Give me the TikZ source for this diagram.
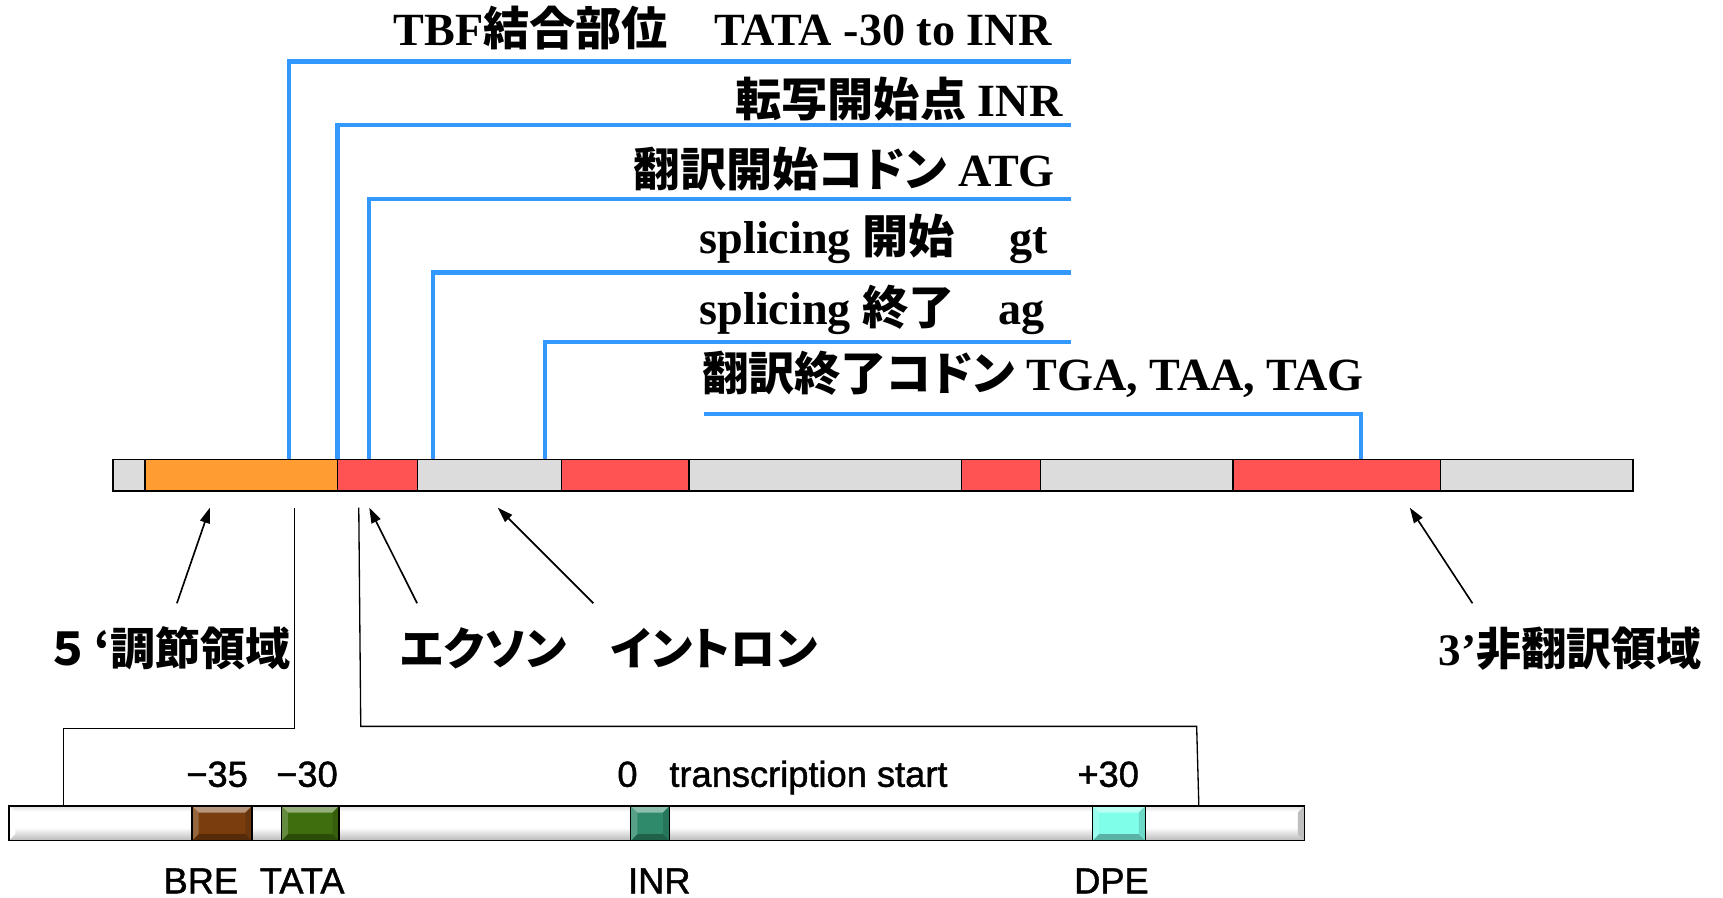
\documentclass[tikz,border=0pt]{standalone}
\usepackage{fontspec}
\setmainfont{Liberation Serif}
\newfontfamily\jp{Noto Sans CJK JP}[RawFeature=+palt]
\newfontfamily\lsans{Liberation Sans}[FakeBold=1.2]
\usetikzlibrary{arrows.meta}
\definecolor{segGray}{HTML}{DCDCDC}
\definecolor{segOrange}{HTML}{FF9D33}
\definecolor{segRed}{HTML}{FF5353}
\definecolor{lineBlue}{HTML}{3399FF}
\definecolor{breC}{HTML}{7A3E0E}
\definecolor{tataC}{HTML}{3F6E0E}
\definecolor{inrC}{HTML}{2E8A6A}
\definecolor{dpeC}{HTML}{7FFFEA}
\newcommand\bevbox[4]{%
 \node[anchor=north west, minimum width=#3pt, minimum height=31.5pt, inner sep=0pt, outer sep=0pt, fill=#4] (#1) at (#2,733.5) {};
 \fill[#4!55!white] (#1.north west) -- (#1.north east) -- ([shift={(-6pt,-6pt)}]#1.north east) -- ([shift={(6pt,-6pt)}]#1.north west) -- cycle;
 \fill[#4!70!black] (#1.south west) -- (#1.south east) -- ([shift={(-6pt,6pt)}]#1.south east) -- ([shift={(6pt,6pt)}]#1.south west) -- cycle;
 \fill[#4!80!white] (#1.north west) -- ([shift={(6pt,-6pt)}]#1.north west) -- ([shift={(6pt,6pt)}]#1.south west) -- (#1.south west) -- cycle;
 \fill[#4!85!black] (#1.north east) -- ([shift={(-6pt,-6pt)}]#1.north east) -- ([shift={(-6pt,6pt)}]#1.south east) -- (#1.south east) -- cycle;
 \draw[line width=1.3pt] (#1.north west) rectangle (#1.south east);
}
\begin{document}
\begin{tikzpicture}[x=1pt,y=-1pt,
 segbox/.style={draw=black, line width=1.5pt, minimum height=29pt, inner sep=0pt, outer sep=0pt, anchor=north west},
 blueline/.style={draw=lineBlue, line width=4pt},
 arr/.style={draw=black, line width=1.5pt, -{Triangle[length=14pt,width=9pt]}},
 thinline/.style={draw=black, line width=1.2pt},
 toptext/.style={font=\fontsize{42}{50}\selectfont\bfseries, inner sep=0pt},
 jlabel/.style={font=\fontsize{41}{48}\selectfont\bfseries\jp, inner sep=0pt, anchor=base},
 smalllabel/.style={font=\fontsize{33}{40}\selectfont\lsans, inner sep=0pt, anchor=base},
]
\useasboundingbox (0,0) rectangle (1568,817);

% blue connector lines
\coordinate (b1) at (263,418);    \coordinate (e1) at (975,56);
\coordinate (b2) at (307,418);    \coordinate (e2) at (975,114);
\coordinate (b3) at (336,418);    \coordinate (e3) at (975,181);
\coordinate (b4) at (394,418);    \coordinate (e4) at (975,248);
\coordinate (b5) at (496,418);    \coordinate (e5) at (975,311);
\coordinate (b6) at (1238.5,418); \coordinate (e6) at (641,377);
\draw[blueline] (b1) |- (e1);
\draw[blueline] (b2) |- (e2);
\draw[blueline] (b3) |- (e3);
\draw[blueline] (b4) |- (e4);
\draw[blueline] (b5) |- (e5);
\draw[blueline] (b6) |- (e6);

% main gene bar
\node[segbox, fill=segGray,   minimum width=29pt]  (s1)  at (103,418) {};
\node[segbox, fill=segOrange, minimum width=175pt] (s2)  at (132,418) {};
\node[segbox, fill=segRed,    minimum width=73pt]  (s3)  at (307,418) {};
\node[segbox, fill=segGray,   minimum width=131pt] (s4)  at (380,418) {};
\node[segbox, fill=segRed,    minimum width=116pt] (s5)  at (511,418) {};
\node[segbox, fill=segGray,   minimum width=248pt] (s6)  at (627,418) {};
\node[segbox, fill=segRed,    minimum width=72pt]  (s7)  at (875,418) {};
\node[segbox, fill=segGray,   minimum width=175pt] (s8)  at (947,418) {};
\node[segbox, fill=segRed,    minimum width=189pt] (s9)  at (1122,418) {};
\node[segbox, fill=segGray,   minimum width=175pt] (s10) at (1311,418) {};

% top texts
\node[toptext, anchor=base east] (t1) at (957,41) {TBF{\jp 結合部位}\hspace{42pt}TATA -30 to INR};
\node[toptext, anchor=base east] (t2) at (967,106) {{\jp 転写開始点} INR};
\node[toptext, anchor=base east] (t3) at (960,170) {{\jp 翻訳開始コドン} ATG};
\node[toptext, anchor=base west] (t4) at (636.5,230.5) {splicing {\jp 開始}\hspace{50pt}gt};
\node[toptext, anchor=base west] (t5) at (636.5,295.7) {splicing {\jp 終了}\hspace{40pt}ag};
\node[toptext, anchor=base west] (t6) at (639,355) {{\jp 翻訳終了コドン} TGA, TAA, TAG};

% region labels and arrows
\node[jlabel] (l5)  at (155,606)  {５\hspace{10pt}‘調節領域};
\node[jlabel] (lex) at (440,606)  {エクソン};
\node[jlabel] (lin) at (650,606)  {イントロン};
\node[jlabel] (l3)  at (1429,606) {{\rmfamily 3’}非翻訳領域};
\coordinate (a5t) at (161,549);   \coordinate (a5h) at (191,462);
\coordinate (aext) at (379.6,549); \coordinate (aexh) at (336,462);
\coordinate (aint) at (540,549);  \coordinate (ainh) at (453,462);
\coordinate (a3t) at (1340,549);  \coordinate (a3h) at (1283,462);
\draw[arr] (a5t) -- (a5h);
\draw[arr] (aext) -- (aexh);
\draw[arr] (aint) -- (ainh);
\draw[arr] (a3t) -- (a3h);

% promoter bar
\node[anchor=north west, minimum width=1179pt, minimum height=31.5pt, inner sep=0pt, outer sep=0pt] (lb) at (8,733.5) {};
\fill[white] (lb.north west) rectangle (lb.south east);
\shade[top color=gray!25, bottom color=white] (lb.north west) rectangle ([yshift=-5pt]lb.north east);
\shade[top color=white, bottom color=gray!55] ([yshift=12pt]lb.south west) rectangle (lb.south east);
\fill[white] (lb.north west) -- ([shift={(6pt,-6pt)}]lb.north west) -- ([shift={(6pt,6pt)}]lb.south west) -- (lb.south west) -- cycle;
\fill[gray!50] (lb.north east) -- ([shift={(-6pt,-6pt)}]lb.north east) -- ([shift={(-6pt,6pt)}]lb.south east) -- (lb.south east) -- cycle;
\draw[line width=1.5pt] (lb.north west) rectangle (lb.south east);
\bevbox{bre}{174.7}{54.7}{breC}
\bevbox{tata}{256}{52.6}{tataC}
\bevbox{inr}{574}{35.4}{inrC}
\bevbox{dpe}{994}{48.3}{dpeC}

% zoom lines
\coordinate (c1a) at (268,462);   \coordinate (c1b) at (58,733.5);
\coordinate (c2a) at (326.5,462); \coordinate (c2b) at (1091,733.5);
\draw[thinline] (c1a) -- (268,663) -- (58,663) -- (c1b);
\draw[thinline] (c2a) -- (328.3,661) -- (1089,661) -- (c2b);

% promoter labels
\node[smalllabel] (m35) at (197.6,716) {−35};
\node[smalllabel] (m30) at (279.4,716) {−30};
\node[smalllabel] (z0)  at (571,716) {0};
\node[smalllabel, anchor=base west] (ts) at (609,716) {transcription start};
\node[smalllabel] (p30) at (1008.5,716) {+30};
\node[smalllabel] (lbre)  at (182.8,813) {BRE};
\node[smalllabel] (ltata) at (275,813) {TATA};
\node[smalllabel] (linr)  at (600,813) {INR};
\node[smalllabel] (ldpe)  at (1011.5,813) {DPE};
\end{tikzpicture}
\end{document}
